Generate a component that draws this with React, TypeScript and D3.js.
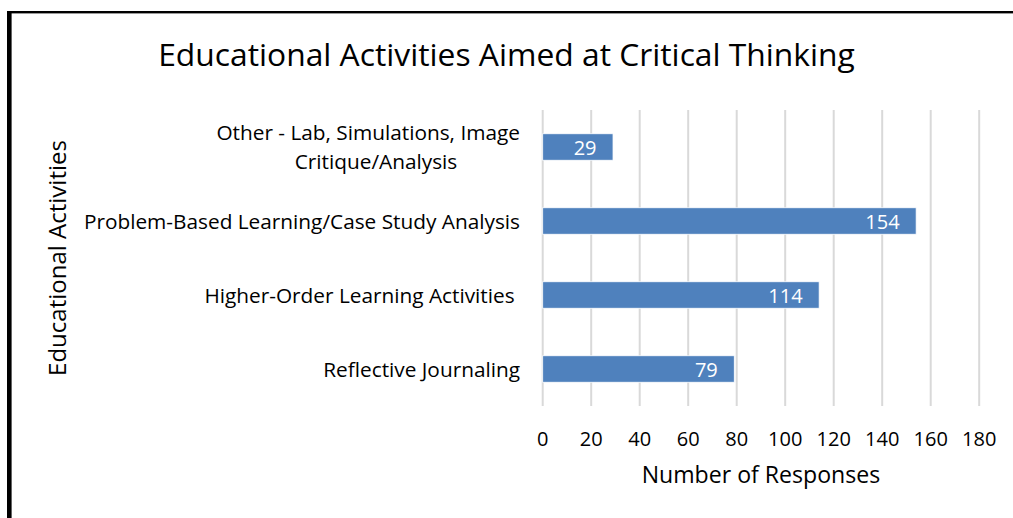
import React from "react";
import * as d3 from "d3";

const categories: string[][] = [
  ["Other - Lab, Simulations, Image", "Critique/Analysis"],
  ["Problem-Based Learning/Case Study Analysis"],
  ["Higher-Order Learning Activities "],
  ["Reflective Journaling"],
];
const values: number[] = [29, 154, 114, 79];
const xTicks: number[] = [0, 20, 40, 60, 80, 100, 120, 140, 160, 180];
const title = "Educational Activities Aimed at Critical Thinking";
const xTitle = "Number of Responses";
const yTitle = "Educational Activities";

const W = 1013;
const H = 518;
const FONT = "'Open Sans', sans-serif";

export default function App() {
  const left = 542.7;
  const right = 979.2;
  const top = 110;
  const bottom = 406;

  const x = d3.scaleLinear().domain([0, 180]).range([left, right]);
  const idx = d3.range(categories.length).map(String);
  const y = d3
    .scaleBand<string>()
    .domain(idx)
    .range([top, bottom])
    .paddingInner(0.642)
    .paddingOuter(0.321);

  return (
    <svg
      width={W}
      height={H}
      style={{ position: "absolute", left: 0, top: 0, background: "#fff" }}
      fontFamily={FONT}
    >
      <rect x={0} y={0} width={W} height={H} fill="#fff" />
      {/* border */}
      <rect x={7} y={11} width={4.6} height={H} fill="#000" />
      <rect x={7} y={11} width={W} height={2.4} fill="#000" />

      {/* title */}
      <text x={506.5} y={66} textAnchor="middle" fontSize={31.8} fill="#000">
        {title}
      </text>

      {/* gridlines */}
      {xTicks.map((t) => (
        <line
          key={"g" + t}
          x1={x(t)}
          x2={x(t)}
          y1={top}
          y2={bottom}
          stroke="#d9d9d9"
          strokeWidth={2}
        />
      ))}

      {/* bars */}
      {values.map((v, i) => {
        const y0 = y(String(i))!;
        return (
          <g key={"b" + i}>
            <rect
              x={x(0)}
              y={y0}
              width={x(v) - x(0)}
              height={y.bandwidth()}
              fill="#4f81bd"
              stroke="#ffffff"
              strokeWidth={0.8}
            />
            <text
              x={x(v) - 16.5}
              y={y0 + y.bandwidth() / 2 + 7.5}
              textAnchor="end"
              fontSize={20}
              fill="#ffffff"
            >
              {v}
            </text>
          </g>
        );
      })}

      {/* category labels */}
      {categories.map((lines, i) => {
        const cy = y(String(i))! + y.bandwidth() / 2;
        const lh = 29;
        const n = lines.length;
        return (
          <text
            key={"c" + i}
            fontSize={20.8}
            fill="#000"
            style={{ whiteSpace: "pre" }}
          >
            {lines.map((ln, j) => (
              <tspan
                key={j}
                x={n > 1 && j > 0 ? 376 : 520}
                textAnchor={n > 1 && j > 0 ? "middle" : "end"}
                y={cy + 7.5 + (j - (n - 1) / 2) * lh}
              >
                {ln}
              </tspan>
            ))}
          </text>
        );
      })}

      {/* x tick labels */}
      {xTicks.map((t) => (
        <text
          key={"t" + t}
          x={x(t)}
          y={446}
          textAnchor="middle"
          fontSize={20}
          fill="#000"
        >
          {t}
        </text>
      ))}

      {/* axis titles */}
      <text
        x={(left + right) / 2}
        y={483}
        textAnchor="middle"
        fontSize={23.1}
        fill="#000"
      >
        {xTitle}
      </text>
      <text
        transform={`translate(66, ${(top + bottom) / 2}) rotate(-90)`}
        textAnchor="middle"
        fontSize={24}
        fill="#000"
      >
        {yTitle}
      </text>
    </svg>
  );
}
